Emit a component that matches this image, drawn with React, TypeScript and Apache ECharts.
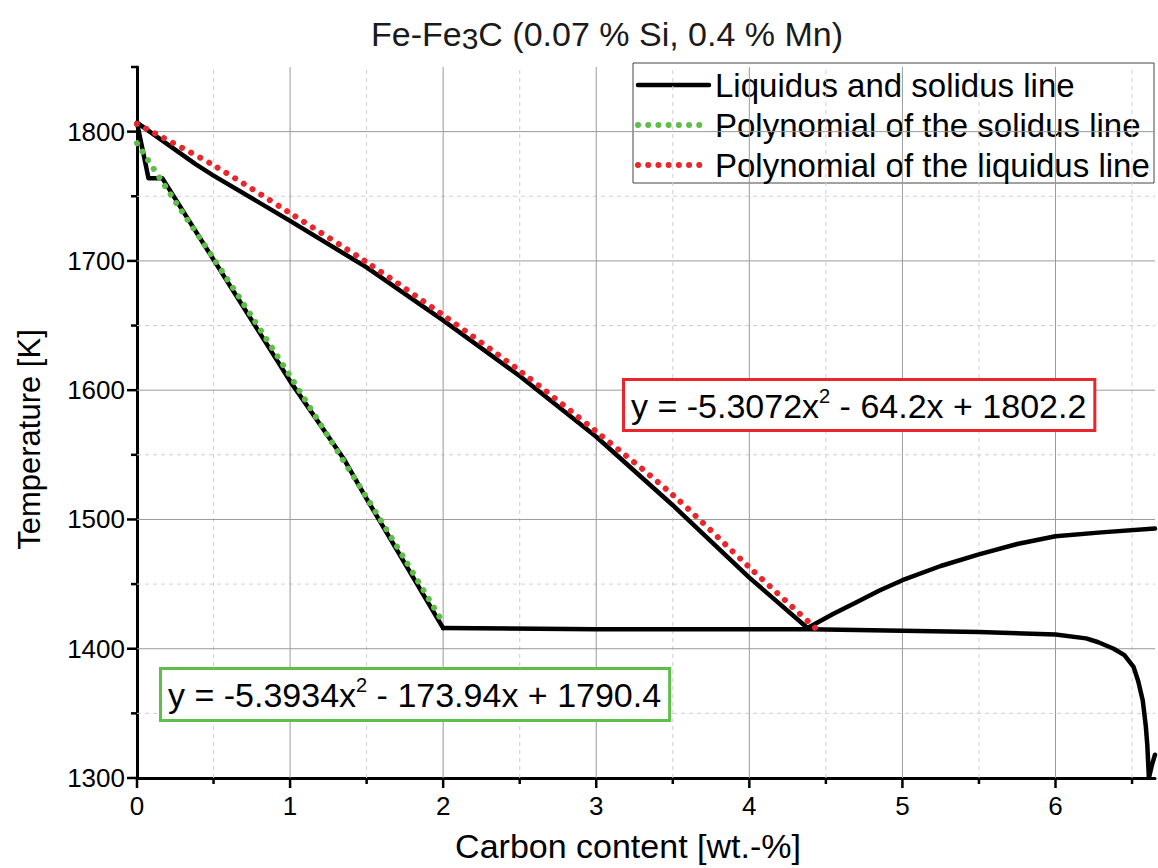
import React, { useEffect, useRef } from "react";
import * as echarts from "echarts";

const X_MIN = 0;
const X_MAX = 6.65;
const Y_MIN = 1300;
const Y_MAX = 1850;

const xMajorTicks = [0, 1, 2, 3, 4, 5, 6];
const xMinorTicks = [0.5, 1.5, 2.5, 3.5, 4.5, 5.5, 6.5];
const yMajorTicks = [1300, 1400, 1500, 1600, 1700, 1800];
const yMinorTicks = [1350, 1450, 1550, 1650, 1750, 1850];

const legendNames = [
  "Liquidus and solidus line",
  "Polynomial of the solidus line",
  "Polynomial of the liquidus line",
];

// black phase-diagram lines
const liquidusLine = [
  [0, 1807], [0.38, 1775], [0.5, 1766], [1, 1731], [1.5, 1695], [2, 1654],
  [2.5, 1611], [3, 1564], [3.5, 1511], [4, 1455], [4.38, 1416],
];
const solidusLine = [
  [0, 1807], [0.075, 1764], [0.165, 1764], [0.5, 1701], [1, 1607],
  [1.35, 1547], [1.5, 1516], [2, 1416],
];
const eutecticLine = [
  [2, 1416], [3, 1415], [4, 1415], [4.4, 1415], [5, 1414], [5.5, 1413],
  [6, 1411], [6.2, 1408], [6.28, 1405], [6.38, 1400], [6.45, 1395],
  [6.51, 1386], [6.54, 1375], [6.57, 1360], [6.59, 1340], [6.6, 1325],
  [6.61, 1300], [6.63, 1310], [6.65, 1318],
];
const upperLine = [
  [4.38, 1416], [4.55, 1427], [4.7, 1436], [4.85, 1445], [5, 1453],
  [5.25, 1464], [5.5, 1473], [5.75, 1481], [6, 1487], [6.3, 1490], [6.65, 1493],
];

// fitted polynomials (dotted)
const solidusFit = [
  [0, 1791], [0.25, 1746], [0.5, 1702], [0.75, 1657], [1, 1611],
  [1.25, 1564], [1.5, 1517], [1.75, 1469], [2, 1420],
];
const liquidusFit = [
  [0, 1806], [0.5, 1774], [1, 1737], [1.5, 1699], [2, 1658], [2.5, 1615],
  [3, 1568], [3.5, 1519], [4, 1463], [4.45, 1414],
];

const FONT = "'Liberation Sans', Arial, sans-serif";
const RED = "#e8262b";
const GREEN = "#5ebe47";
const DOTS = [0.01, 10.2];

function gridSeries(ticks: number[], axis: "x" | "y", major: boolean) {
  return {
    type: "custom",
    silent: true,
    clip: false,
    z: 1,
    data: ticks.map((v) => (axis === "x" ? [v, Y_MIN] : [X_MIN, v])),
    renderItem: (params: any, api: any) => {
      const children: any[] = [];
      const gridStyle = major
        ? { stroke: "#9a9a9a", lineWidth: 1 }
        : { stroke: "#cfcfcf", lineWidth: 1, lineDash: [4, 4] };
      const tickStyle = { stroke: "#000", lineWidth: 2.5 };
      const len = major ? 10 : 6;
      if (axis === "x") {
        const v = api.value(0);
        const p0 = api.coord([v, Y_MIN]);
        const p1 = api.coord([v, Y_MAX]);
        if (v > X_MIN && v < X_MAX) {
          children.push({ type: "line", shape: { x1: p0[0], y1: p0[1], x2: p1[0], y2: p1[1] }, style: gridStyle });
        }
        children.push({ type: "line", shape: { x1: p0[0], y1: p0[1], x2: p0[0], y2: p0[1] + len }, style: tickStyle });
      } else {
        const v = api.value(1);
        const p0 = api.coord([X_MIN, v]);
        const p1 = api.coord([X_MAX, v]);
        if (v > Y_MIN && v < Y_MAX) {
          children.push({ type: "line", shape: { x1: p0[0], y1: p0[1], x2: p1[0], y2: p1[1] }, style: gridStyle });
        }
        children.push({ type: "line", shape: { x1: p0[0], y1: p0[1], x2: p0[0] - len, y2: p0[1] }, style: tickStyle });
      }
      return { type: "group", children };
    },
  };
}

function blackSeries(data: number[][]) {
  return {
    name: legendNames[0],
    type: "line",
    data,
    symbol: "none",
    showSymbol: false,
    z: 2,
    lineStyle: { color: "#000", width: 4.5, join: "round", cap: "round" },
  };
}

function dottedSeries(name: string, data: number[][], color: string) {
  return {
    name,
    type: "line",
    data,
    symbol: "none",
    showSymbol: false,
    smooth: 0.3,
    z: 3,
    itemStyle: { color },
    lineStyle: { color, width: 6, type: DOTS, cap: "round" },
  };
}

function legendGraphic() {
  const left = 633;
  const top = 63;
  const rows = [85, 125, 165];
  const styles = [
    { stroke: "#000", lineWidth: 4.5, lineCap: "round" },
    { stroke: GREEN, lineWidth: 6, lineDash: DOTS, lineCap: "round" },
    { stroke: RED, lineWidth: 6, lineDash: DOTS, lineCap: "round" },
  ];
  const children: any[] = [
    {
      type: "rect",
      shape: { x: left, y: top, width: 521, height: 120 },
      style: { fill: "#fff", stroke: "#444", lineWidth: 1 },
    },
  ];
  legendNames.forEach((name, i) => {
    children.push({
      type: "line",
      shape: { x1: 638, y1: rows[i], x2: 709, y2: rows[i] },
      style: styles[i],
    });
    children.push({
      type: "text",
      x: 715,
      y: rows[i],
      style: {
        text: name,
        fontSize: 33,
        fontFamily: FONT,
        fill: "#000",
        verticalAlign: "middle",
        align: "left",
      },
    });
  });
  return { type: "group", z: 90, silent: true, children };
}

export default function App() {
  const ref = useRef<HTMLDivElement>(null);
  useEffect(() => {
    if (!ref.current) return;
    const chart = echarts.init(ref.current, null, { renderer: "svg" });
    const eqRich = () => ({
      a: { fontSize: 34, fontFamily: FONT, color: "#000", lineHeight: 40 },
      s: { fontSize: 20, fontFamily: FONT, color: "#000", lineHeight: 30, verticalAlign: "top" },
    });
    chart.setOption({
      animation: false,
      backgroundColor: "#fff",
      title: {
        text: "{a|Fe-Fe}{b|3}{a|C (0.07 % Si, 0.4 % Mn)}",
        left: 366,
        top: 10,
        textStyle: {
          fontWeight: "normal",
          rich: {
            a: { fontSize: 34, fontFamily: FONT, fontWeight: "normal", color: "#1a1a1a", lineHeight: 38 },
            b: { fontSize: 30, fontFamily: FONT, fontWeight: "normal", color: "#1a1a1a", lineHeight: 30, verticalAlign: "bottom" },
          },
        },
      },
      grid: { left: 137, right: 3, top: 67, bottom: 86, containLabel: false },
      xAxis: {
        type: "value",
        min: X_MIN,
        max: X_MAX,
        interval: 1,
        name: "Carbon content [wt.-%]",
        nameLocation: "middle",
        nameGap: 51,
        nameTextStyle: { fontSize: 34, fontFamily: FONT, color: "#000", padding: [0, 36, 0, 0] },
        axisLine: { show: true, onZero: false, lineStyle: { color: "#000", width: 3 } },
        axisTick: { show: false },
        splitLine: { show: false },
        axisLabel: {
          fontSize: 26,
          fontFamily: FONT,
          color: "#000",
          margin: 15,
          formatter: (v: number) => (Number.isInteger(v) ? String(v) : ""),
        },
      },
      yAxis: {
        type: "value",
        min: Y_MIN,
        max: Y_MAX,
        interval: 100,
        name: "Temperature [K]",
        nameLocation: "middle",
        nameGap: 92,
        nameTextStyle: { fontSize: 31, fontFamily: FONT, color: "#000", padding: [0, 34, 0, 0] },
        axisLine: { show: true, onZero: false, lineStyle: { color: "#000", width: 3 } },
        axisTick: { show: false },
        splitLine: { show: false },
        axisLabel: {
          fontSize: 26,
          fontFamily: FONT,
          color: "#000",
          margin: 12,
          formatter: (v: number) => (v % 100 === 0 ? String(v) : ""),
        },
      },
      graphic: [
        legendGraphic(),
        {
          type: "text",
          left: 622,
          top: 378,
          z: 100,
          style: {
            text: "{a|y = -5.3072x}{s|2}{a| - 64.2x + 1802.2}",
            rich: eqRich(),
            backgroundColor: "#fff",
            borderColor: RED,
            borderWidth: 3,
            padding: [5, 7, 3, 6],
          },
        },
        {
          type: "text",
          left: 159,
          top: 667,
          z: 100,
          style: {
            text: "{a|y = -5.3934x}{s|2}{a| - 173.94x + 1790.4}",
            rich: eqRich(),
            backgroundColor: "#fff",
            borderColor: GREEN,
            borderWidth: 3,
            padding: [5, 7, 4, 6],
          },
        },
      ],
      series: [
        gridSeries(xMinorTicks, "x", false),
        gridSeries(yMinorTicks, "y", false),
        gridSeries(xMajorTicks, "x", true),
        gridSeries(yMajorTicks, "y", true),
        blackSeries(liquidusLine),
        blackSeries(solidusLine),
        blackSeries(eutecticLine),
        blackSeries(upperLine),
        dottedSeries(legendNames[1], solidusFit, GREEN),
        dottedSeries(legendNames[2], liquidusFit, RED),
      ],
    });
    return () => chart.dispose();
  }, []);
  return (
    <div
      ref={ref}
      style={{ position: "fixed", left: 0, top: 0, width: 1158, height: 868, background: "#fff" }}
    />
  );
}
